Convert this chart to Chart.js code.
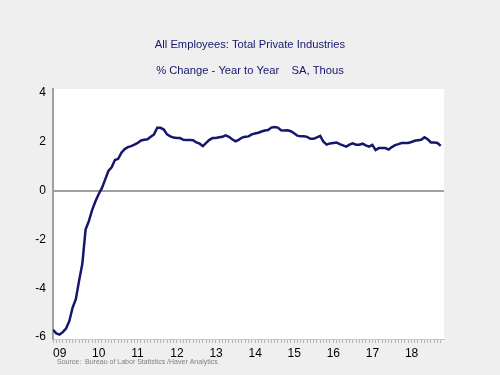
<!DOCTYPE html>
<html>
<head>
<meta charset="utf-8">
<script src="https://cdn.jsdelivr.net/npm/chart.js@4/dist/chart.umd.min.js"></script>
<style>
  html, body { margin: 0; padding: 0; background: #efefef; }
  #wrap { width: 500px; height: 375px; }
</style>
</head>
<body>
<div id="wrap"><canvas id="chart" width="500" height="375"></canvas></div>
<script>
'use strict';

const TITLE_LINES = ['All Employees: Total Private Industries', '% Change - Year to Year    SA, Thous'];
const SOURCE_NOTE = 'Source:  Bureau of Labor Statistics /Haver Analytics';

// Year labels, one per January tick
const YEAR_LABELS = ['09', '10', '11', '12', '13', '14', '15', '16', '17', '18'];
const Y_TICKS = [-6, -4, -2, 0, 2, 4];

// Monthly % change y/y, Jan 2009 .. Dec 2018
const PCT_CHANGE = [
  -5.70, -5.85, -5.90, -5.80, -5.65, -5.35, -4.80, -4.45, -3.70, -3.00, -1.60, -1.25, // 09
  -0.80, -0.45, -0.15,  0.10,  0.45,  0.80,  0.95,  1.25,  1.30,  1.55,  1.70,  1.78, // 10
   1.82,  1.88,  1.95,  2.05,  2.08,  2.10,  2.20,  2.30,  2.57,  2.57,  2.50,  2.30, // 11
   2.22,  2.17,  2.15,  2.15,  2.08,  2.07,  2.07,  2.06,  1.97,  1.92,  1.82,  1.95, // 12
   2.08,  2.15,  2.15,  2.18,  2.20,  2.26,  2.20,  2.10,  2.02,  2.08,  2.17,  2.20, // 13
   2.22,  2.30,  2.34,  2.37,  2.42,  2.46,  2.48,  2.58,  2.60,  2.58,  2.47,  2.46, // 14
   2.47,  2.43,  2.35,  2.25,  2.22,  2.22,  2.20,  2.12,  2.12,  2.18,  2.24,  2.00, // 15
   1.88,  1.93,  1.95,  1.97,  1.90,  1.85,  1.80,  1.88,  1.93,  1.88,  1.88,  1.92, // 16
   1.85,  1.80,  1.87,  1.66,  1.74,  1.74,  1.74,  1.68,  1.78,  1.86,  1.90,  1.95, // 17
   1.95,  1.95,  1.99,  2.04,  2.06,  2.08,  2.18,  2.10,  1.97,  1.97,  1.95,  1.83  // 18
];

const NAVY = '#16166e';
const FONT = '"Liberation Sans", Arial, sans-serif';

// gray page, white plot box
const backdrop = {
  id: 'backdrop',
  beforeDraw(chart) {
    const { ctx, chartArea: a } = chart;
    ctx.save();
    ctx.fillStyle = '#efefef';
    ctx.fillRect(0, 0, chart.width, chart.height);
    ctx.fillStyle = '#ffffff';
    ctx.fillRect(a.left, a.top, a.right - a.left, a.bottom - a.top);
    ctx.restore();
  }
};

const sourceNote = {
  id: 'sourceNote',
  afterDraw(chart) {
    const { ctx, chartArea: a } = chart;
    ctx.save();
    ctx.font = '7px ' + FONT;
    ctx.fillStyle = '#808080';
    ctx.textBaseline = 'middle';
    ctx.fillText(SOURCE_NOTE, a.left + 4, 362);
    ctx.restore();
  }
};

const points = PCT_CHANGE.map((v, i) => ({ x: i, y: v }));

new Chart(document.getElementById('chart'), {
  type: 'line',
  data: {
    datasets: [{
      data: points,
      borderColor: NAVY,
      borderWidth: 2.5,
      pointRadius: 0,
      tension: 0,
      fill: false,
    }],
  },
  options: {
    responsive: false,
    animation: false,
    layout: { padding: 0 },
    plugins: {
      legend: { display: false },
      tooltip: { enabled: false },
      title: {
        display: true,
        text: TITLE_LINES,
        color: NAVY,
        font: { family: FONT, size: 11.2, weight: 'normal', lineHeight: 26 / 11.2 },
        padding: { top: 32, bottom: 5 },
      },
    },
    scales: {
      x: {
        type: 'linear',
        min: 0,
        max: 120,
        afterBuildTicks: s => { s.ticks = Array.from({ length: 120 }, (_, i) => ({ value: i })); },
        afterFit: s => { s.height = 36; },
        ticks: {
          autoSkip: false,
          maxRotation: 0,
          align: 'start',
          padding: 3,
          color: '#000',
          font: { family: FONT, size: 12 },
          callback: v => (v % 12 === 0 ? YEAR_LABELS[v / 12] : ''),
        },
        grid: {
          drawOnChartArea: false,
          drawTicks: true,
          tickLength: 4,
          tickColor: '#b4b4b4',
        },
        border: { display: true, color: '#c8c8c8', width: 1 },
      },
      y: {
        min: -6.08,
        max: 4.16,
        afterBuildTicks: s => { s.ticks = Y_TICKS.map(v => ({ value: v })); },
        afterFit: s => { s.width = 53; },
        ticks: {
          padding: 7,
          color: '#000',
          font: { family: FONT, size: 12 },
        },
        grid: {
          drawTicks: false,
          color: c => (c.tick && c.tick.value === 0 ? '#a0a0a0' : 'rgba(0,0,0,0)'),
          lineWidth: 2,
        },
        border: { display: true, color: '#a0a0a0', width: 2 },
      },
      // empty right-hand axis: reserves the margin so the title stays centred on the page
      yRight: {
        position: 'right',
        display: true,
        afterFit: s => { s.width = 56; },
        ticks: { display: false },
        grid: { display: false },
        border: { display: false },
      },
    },
  },
  plugins: [backdrop, sourceNote],
});
</script>
</body>
</html>
